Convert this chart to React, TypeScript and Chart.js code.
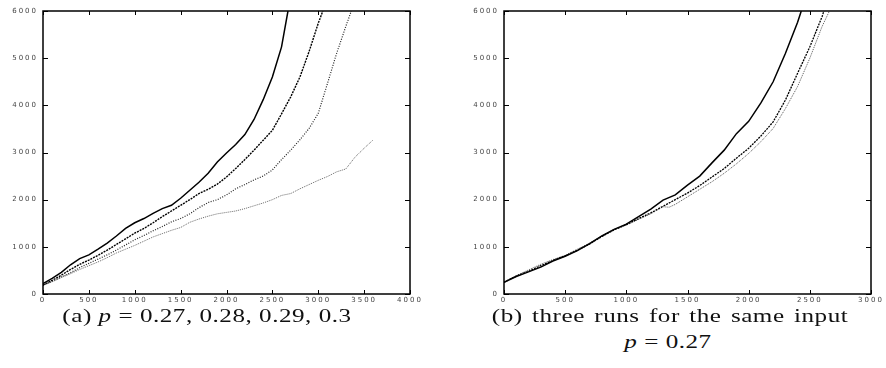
import React, { useEffect, useRef } from "react";
import { Chart, registerables } from "chart.js";

Chart.register(...registerables);

// ---------- Panel (a): p = 0.27, 0.28, 0.29, 0.3 ----------
const aX027 = [0, 100, 200, 300, 400, 500, 600, 700, 800, 900, 1000, 1100, 1200, 1300, 1400, 1500, 1600, 1700, 1800, 1900, 2000, 2100, 2200, 2300, 2400, 2500, 2600, 2670];
const aY027 = [220, 330, 460, 620, 750, 830, 950, 1080, 1230, 1390, 1510, 1600, 1710, 1810, 1880, 2030, 2200, 2370, 2560, 2800, 2990, 3170, 3380, 3700, 4120, 4600, 5240, 6000];

const aX028 = [0, 100, 200, 300, 400, 500, 600, 700, 800, 900, 1000, 1100, 1200, 1300, 1400, 1500, 1600, 1700, 1800, 1900, 2000, 2100, 2200, 2300, 2400, 2500, 2600, 2700, 2800, 2900, 3000, 3050];
const aY028 = [190, 290, 400, 520, 630, 720, 820, 930, 1050, 1170, 1290, 1390, 1510, 1640, 1760, 1880, 2000, 2130, 2220, 2330, 2480, 2660, 2850, 3050, 3260, 3470, 3820, 4180, 4600, 5140, 5740, 6000];

const aX029 = [0, 100, 200, 300, 400, 500, 600, 700, 800, 900, 1000, 1100, 1200, 1300, 1400, 1500, 1600, 1700, 1800, 1900, 2000, 2100, 2200, 2300, 2400, 2500, 2600, 2700, 2800, 2900, 3000, 3100, 3200, 3300, 3360];
const aY029 = [190, 270, 360, 450, 560, 650, 740, 830, 930, 1040, 1150, 1240, 1340, 1430, 1530, 1600, 1700, 1830, 1940, 2000, 2100, 2230, 2320, 2420, 2500, 2630, 2850, 3050, 3270, 3510, 3830, 4460, 5100, 5670, 6000];

const aX030 = [0, 100, 200, 300, 400, 500, 600, 700, 800, 900, 1000, 1100, 1200, 1300, 1400, 1500, 1600, 1700, 1800, 1900, 2000, 2100, 2200, 2300, 2400, 2500, 2600, 2700, 2800, 2900, 3000, 3100, 3200, 3300, 3400, 3500, 3600];
const aY030 = [180, 260, 350, 430, 520, 600, 680, 770, 870, 950, 1030, 1120, 1210, 1280, 1350, 1410, 1520, 1590, 1650, 1700, 1730, 1760, 1810, 1870, 1930, 2000, 2090, 2130, 2230, 2320, 2410, 2490, 2590, 2650, 2900, 3090, 3270];

// ---------- Panel (b): three runs, p = 0.27 ----------
const bXRun1 = [0, 100, 200, 300, 400, 500, 600, 700, 800, 900, 1000, 1100, 1200, 1300, 1400, 1500, 1600, 1700, 1800, 1900, 2000, 2100, 2200, 2300, 2400, 2430];
const bYRun1 = [250, 370, 470, 570, 700, 800, 920, 1070, 1230, 1370, 1480, 1640, 1800, 1990, 2100, 2310, 2500, 2780, 3050, 3400, 3660, 4050, 4500, 5100, 5760, 6000];

const bXRun2 = [0, 100, 200, 300, 400, 500, 600, 700, 800, 900, 1000, 1100, 1200, 1300, 1400, 1500, 1600, 1700, 1800, 1900, 2000, 2100, 2200, 2300, 2400, 2500, 2600, 2615];
const bYRun2 = [250, 380, 480, 600, 710, 810, 930, 1060, 1220, 1360, 1470, 1600, 1720, 1860, 2000, 2140, 2300, 2480, 2660, 2880, 3090, 3350, 3650, 4110, 4680, 5240, 5880, 6000];

const bXRun3 = [0, 100, 200, 300, 400, 500, 600, 700, 800, 900, 1000, 1100, 1200, 1300, 1350, 1400, 1500, 1600, 1700, 1800, 1900, 2000, 2100, 2200, 2300, 2400, 2500, 2600, 2660];
const bYRun3 = [250, 390, 510, 630, 730, 820, 950, 1080, 1230, 1370, 1460, 1580, 1700, 1850, 1840, 1900, 2060, 2220, 2380, 2560, 2760, 2980, 3230, 3510, 3930, 4400, 5000, 5670, 6000];

const yTickValues = [0, 1000, 2000, 3000, 4000, 5000, 6000];

const pts = (xs: number[], ys: number[]) => xs.map((x, i) => ({ x, y: ys[i] }));

const framePlugin = {
  id: "gnuFrame",
  beforeDraw(chart: any) {
    (chart.ctx as any).letterSpacing = "2px";
  },
  afterDraw(chart: any) {
    const { ctx, chartArea } = chart;
    const { left, right, top, bottom } = chartArea;
    const xs = chart.scales.x;
    const ys = chart.scales.y;
    ctx.save();
    ctx.setLineDash([]);
    ctx.strokeStyle = "#000";
    ctx.lineWidth = 1.5;
    ctx.strokeRect(left, top, right - left, bottom - top);
    ctx.lineWidth = 1;
    ctx.beginPath();
    xs.ticks.forEach((t: any) => {
      const px = Math.round(xs.getPixelForValue(t.value)) + 0.5;
      ctx.moveTo(px, bottom);
      ctx.lineTo(px, bottom - 4);
      ctx.moveTo(px, top);
      ctx.lineTo(px, top + 4);
    });
    ys.ticks.forEach((t: any) => {
      const py = Math.round(ys.getPixelForValue(t.value)) + 0.5;
      ctx.moveTo(left, py);
      ctx.lineTo(left + 5, py);
      ctx.moveTo(right, py);
      ctx.lineTo(right - 5, py);
    });
    ctx.stroke();
    ctx.restore();
  },
};

function makeOptions(xMax: number, yAxisWidth: number, rightPad: number) {
  const tickFont = { family: "DejaVu Sans", size: 7 };
  return {
    responsive: false,
    animation: false as const,
    layout: { padding: { left: 0, right: rightPad, top: 11, bottom: 0 } },
    plugins: { legend: { display: false }, tooltip: { enabled: false } },
    elements: { point: { radius: 0 } },
    scales: {
      x: {
        type: "linear" as const,
        min: 0,
        max: xMax,
        grid: { display: false, drawTicks: false },
        border: { display: false },
        ticks: {
          stepSize: 500,
          color: "#444",
          font: tickFont,
          padding: 2,
          maxRotation: 0,
          callback: (v: any) => String(v),
        },
        afterFit: (s: any) => {
          s.height = 16;
        },
      },
      y: {
        type: "linear" as const,
        min: 0,
        max: 6000,
        grid: { display: false, drawTicks: false },
        border: { display: false },
        afterBuildTicks: (s: any) => {
          s.ticks = yTickValues.map((v) => ({ value: v }));
        },
        ticks: { color: "#444", font: tickFont, padding: 5, callback: (v: any) => String(v) },
        afterFit: (s: any) => {
          s.width = yAxisWidth;
        },
      },
    },
  };
}

function line(data: { x: number; y: number }[], color: string, width: number, dash: number[]) {
  return {
    data,
    showLine: true,
    borderColor: color,
    borderWidth: width,
    borderDash: dash,
    pointRadius: 0,
    fill: false,
    tension: 0,
  };
}

export default function App() {
  const refA = useRef<HTMLCanvasElement | null>(null);
  const refB = useRef<HTMLCanvasElement | null>(null);

  useEffect(() => {
    const chartA = new Chart(refA.current as HTMLCanvasElement, {
      type: "scatter",
      data: {
        datasets: [
          line(pts(aX027, aY027), "#000", 1.5, []),
          line(pts(aX028, aY028), "#000", 1.4, [2, 1]),
          line(pts(aX029, aY029), "#222", 1.2, [1, 1.5]),
          line(pts(aX030, aY030), "#666", 1, [1, 1]),
        ],
      },
      options: makeOptions(4000, 43, 33) as any,
      plugins: [framePlugin],
    });
    const chartB = new Chart(refB.current as HTMLCanvasElement, {
      type: "scatter",
      data: {
        datasets: [
          line(pts(bXRun1, bYRun1), "#000", 1.5, []),
          line(pts(bXRun2, bYRun2), "#000", 1.3, [2, 1]),
          line(pts(bXRun3, bYRun3), "#555", 1, [1, 1]),
        ],
      },
      options: makeOptions(3000, 61, 15) as any,
      plugins: [framePlugin],
    });
    return () => {
      chartA.destroy();
      chartB.destroy();
    };
  }, []);

  const lineStyle = (cx: number, top: number, ls: number, ws: number): React.CSSProperties => ({
    position: "absolute",
    left: cx - 250,
    width: 500,
    top,
    fontFamily: "'Liberation Serif', serif",
    fontSize: 19,
    lineHeight: "19px",
    textAlign: "center",
    color: "#111",
    whiteSpace: "nowrap",
    letterSpacing: `${ls}px`,
    wordSpacing: `${ws}px`,
    transform: "scaleX(1.32)",
    transformOrigin: "50% 50%",
  });

  return (
    <div style={{ position: "fixed", left: 0, top: 0, width: 886, height: 368, background: "#fff", overflow: "hidden" }}>
      <canvas ref={refA} width={443} height={310} style={{ position: "absolute", left: 0, top: 0 }} />
      <canvas ref={refB} width={443} height={310} style={{ position: "absolute", left: 443, top: 0 }} />
      <div style={lineStyle(207, 306, 0.4, 0)}>
        (a) <i>p</i> = 0.27, 0.28, 0.29, 0.3
      </div>
      <div style={lineStyle(670, 306, 0.4, 2)}>(b) three runs for the same input</div>
      <div style={lineStyle(668, 332, 0.4, 0)}>
        <i>p</i> = 0.27
      </div>
    </div>
  );
}
